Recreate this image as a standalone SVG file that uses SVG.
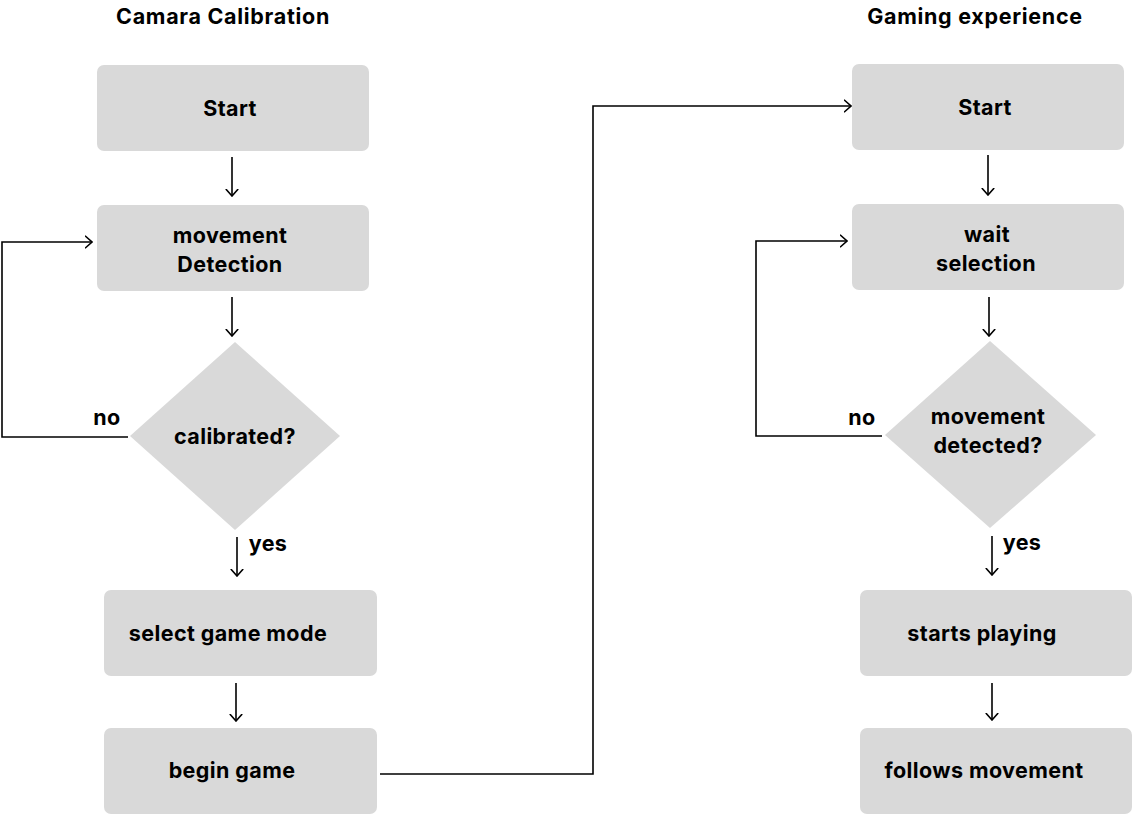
<svg xmlns="http://www.w3.org/2000/svg" width="1133" height="815" viewBox="0 0 1133 815">
<style>
.box{fill:#d9d9d9}
.t{font-family:Inter,"Liberation Sans",sans-serif;font-weight:700;font-size:21.5px;letter-spacing:0.4px;fill:#000;text-anchor:middle}
.title{letter-spacing:0.7px}
.c{fill:none;stroke:#000;stroke-width:1.6}
</style>
<defs>
<marker id="ah" viewBox="0 0 8 14" refX="7.5" refY="7" markerWidth="8" markerHeight="14" markerUnits="userSpaceOnUse" orient="auto">
<path d="M0.5,0.8 L7.5,7 L0.5,13.2" fill="none" stroke="#000" stroke-width="1.6"/>
</marker>
</defs>
<rect width="1133" height="815" fill="#fff"/>
<g id="titles">
<text class="t title" x="223" y="24">Camara Calibration</text>
<text class="t title" x="975" y="24">Gaming experience</text>
</g>
<g id="connectors">
<path class="c" d="M232 157V196" marker-end="url(#ah)"/>
<path class="c" d="M232 297V336" marker-end="url(#ah)"/>
<path class="c" d="M237 537V576" marker-end="url(#ah)"/>
<path class="c" d="M236 683V721" marker-end="url(#ah)"/>
<path class="c" d="M128 437H2V242H92" marker-end="url(#ah)"/>
<path class="c" d="M380 774H593V106H851" marker-end="url(#ah)"/>
<path class="c" d="M988 155V195" marker-end="url(#ah)"/>
<path class="c" d="M989 297V336" marker-end="url(#ah)"/>
<path class="c" d="M992 536V575" marker-end="url(#ah)"/>
<path class="c" d="M992 683V720" marker-end="url(#ah)"/>
<path class="c" d="M882 436H756V241H847" marker-end="url(#ah)"/>
<text class="t" x="107" y="425">no</text>
<text class="t" x="268" y="551">yes</text>
<text class="t" x="862" y="425">no</text>
<text class="t" x="1022" y="550">yes</text>
</g>
<g id="start1"><rect class="box" x="97" y="65" width="272" height="86" rx="7"/><text class="t" x="230" y="116">Start</text></g>
<g id="movement1"><rect class="box" x="97" y="205" width="272" height="86" rx="7"/><text class="t" x="230" y="243">movement</text><text class="t" x="230" y="272">Detection</text></g>
<g id="calibrated"><polygon class="box" points="235,342 340,436 235,530 130,436"/><text class="t" x="235" y="444">calibrated?</text></g>
<g id="selectmode"><rect class="box" x="104" y="590" width="273" height="86" rx="7"/><text class="t" x="228" y="641">select game mode</text></g>
<g id="begingame"><rect class="box" x="104" y="728" width="273" height="86" rx="7"/><text class="t" x="232" y="778">begin game</text></g>
<g id="start2"><rect class="box" x="852" y="64" width="272" height="86" rx="7"/><text class="t" x="985" y="115">Start</text></g>
<g id="waitselection"><rect class="box" x="852" y="204" width="272" height="86" rx="7"/><text class="t" x="987" y="242">wait</text><text class="t" x="986" y="271">selection</text></g>
<g id="detected"><polygon class="box" points="990,341 1096,435 990,528 885,435"/><text class="t" x="988" y="424">movement</text><text class="t" x="988" y="453">detected?</text></g>
<g id="startsplaying"><rect class="box" x="860" y="590" width="272" height="86" rx="7"/><text class="t" x="982" y="641">starts playing</text></g>
<g id="follows"><rect class="box" x="860" y="728" width="272" height="86" rx="7"/><text class="t" x="984" y="778">follows movement</text></g>
</svg>
